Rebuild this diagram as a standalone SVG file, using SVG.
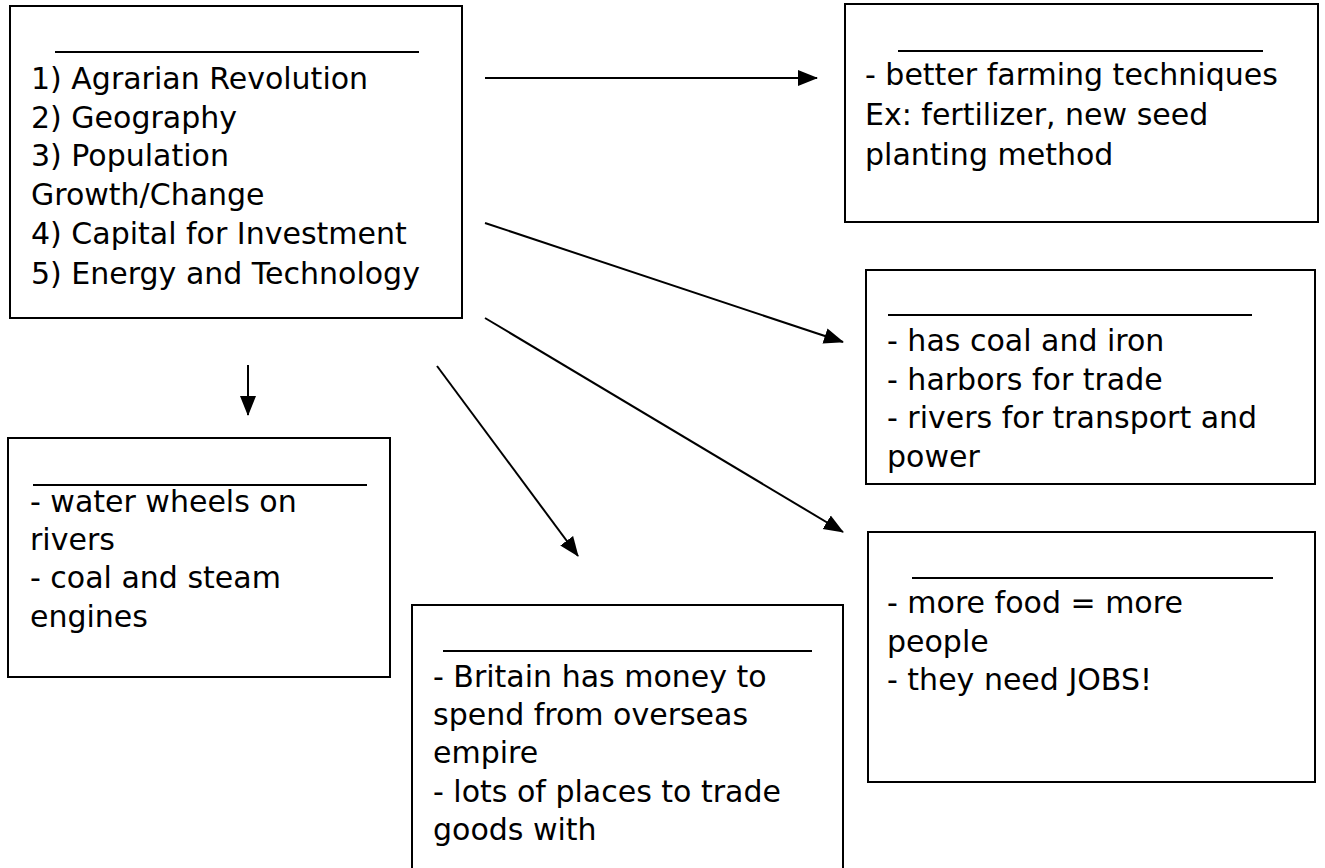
<svg xmlns="http://www.w3.org/2000/svg" width="1325" height="868" viewBox="0 0 1325 868">
<style>
.box{fill:#fff;stroke:#000;stroke-width:2}
.ul{stroke:#000;stroke-width:2}
.t{font-family:"DejaVu Sans","Liberation Sans",sans-serif;font-size:30px;fill:#000}
.c{stroke:#000;stroke-width:2;fill:none}
</style>
<defs>
<marker id="ahl" markerWidth="20" markerHeight="18" refX="19" refY="9" orient="auto" markerUnits="userSpaceOnUse" viewBox="0 0 20 18">
<path d="M0,1 L20,9 L0,17 z" fill="#000"/>
</marker>
</defs>
<rect width="1325" height="868" fill="#fff"/>
<g id="causes">
<rect class="box" x="10" y="6" width="452" height="312"/>
<line class="ul" x1="55" y1="52" x2="419" y2="52"/>
<text class="t" x="31" y="89">1) Agrarian Revolution</text>
<text class="t" x="31" y="128">2) Geography</text>
<text class="t" x="31" y="166">3) Population</text>
<text class="t" x="31" y="205">Growth/Change</text>
<text class="t" x="31" y="244">4) Capital for Investment</text>
<text class="t" x="31" y="284">5) Energy and Technology</text>
</g>
<g id="agrarian">
<rect class="box" x="845" y="4" width="473" height="218"/>
<line class="ul" x1="898" y1="51" x2="1263" y2="51"/>
<text class="t" x="865" y="85">- better farming techniques</text>
<text class="t" x="865" y="125">Ex: fertilizer, new seed</text>
<text class="t" x="865" y="165">planting method</text>
</g>
<g id="geography">
<rect class="box" x="866" y="270" width="449" height="214"/>
<line class="ul" x1="888" y1="315" x2="1252" y2="315"/>
<text class="t" x="887" y="351">- has coal and iron</text>
<text class="t" x="887" y="390">- harbors for trade</text>
<text class="t" x="887" y="428">- rivers for transport and</text>
<text class="t" x="887" y="467">power</text>
</g>
<g id="energy">
<rect class="box" x="8" y="438" width="382" height="239"/>
<line class="ul" x1="33" y1="485" x2="367" y2="485"/>
<text class="t" x="30" y="512">- water wheels on</text>
<text class="t" x="30" y="550">rivers</text>
<text class="t" x="30" y="588">- coal and steam</text>
<text class="t" x="30" y="627">engines</text>
</g>
<g id="capital">
<rect class="box" x="412" y="605" width="431" height="275"/>
<line class="ul" x1="443" y1="651" x2="812" y2="651"/>
<text class="t" x="433" y="687">- Britain has money to</text>
<text class="t" x="433" y="725">spend from overseas</text>
<text class="t" x="433" y="763">empire</text>
<text class="t" x="433" y="802">- lots of places to trade</text>
<text class="t" x="433" y="840">goods with</text>
</g>
<g id="population">
<rect class="box" x="868" y="532" width="447" height="250"/>
<line class="ul" x1="912" y1="578" x2="1273" y2="578"/>
<text class="t" x="887" y="613">- more food = more</text>
<text class="t" x="887" y="652">people</text>
<text class="t" x="887" y="690">- they need JOBS!</text>
</g>
<g id="connectors">
<line class="c" x1="485" y1="78" x2="817" y2="78" marker-end="url(#ahl)"/>
<line class="c" x1="485" y1="223" x2="843" y2="342" marker-end="url(#ahl)"/>
<line class="c" x1="485" y1="318" x2="843" y2="532" marker-end="url(#ahl)"/>
<line class="c" x1="437" y1="366" x2="578" y2="556" marker-end="url(#ahl)"/>
<line class="c" x1="248" y1="365" x2="248" y2="415" marker-end="url(#ahl)"/>
</g>
</svg>
